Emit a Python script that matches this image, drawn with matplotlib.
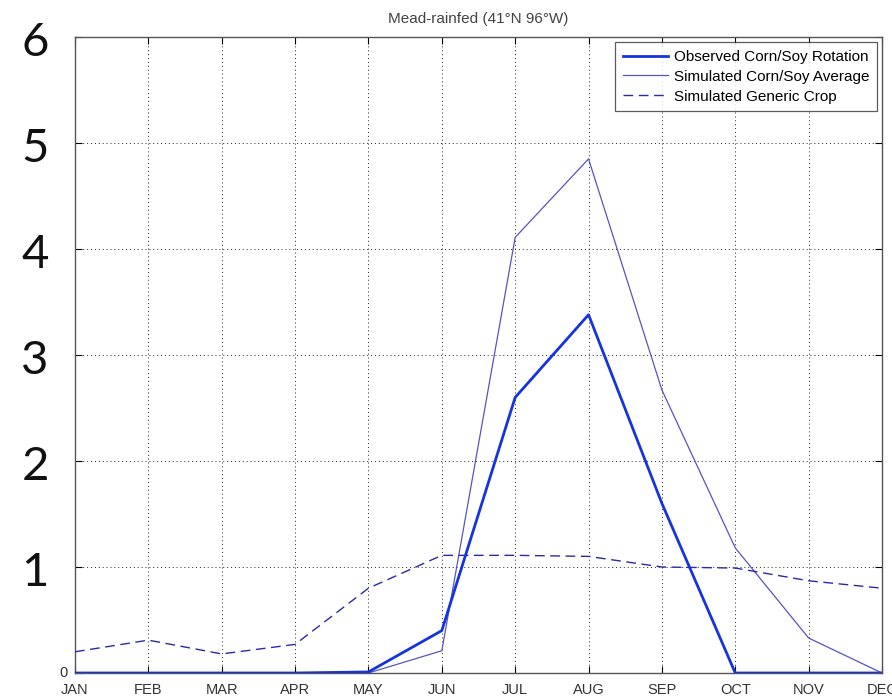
import numpy as np
import matplotlib
matplotlib.use("Agg")
import matplotlib.pyplot as plt
from matplotlib import transforms

months = ["JAN", "FEB", "MAR", "APR", "MAY", "JUN",
          "JUL", "AUG", "SEP", "OCT", "NOV", "DEC"]

# monthly values, Mead rainfed site
observed = [0, 0, 0, 0, 0.01, 0.40, 2.60, 3.38, 1.60, 0, 0, 0]
sim_avg = [0, 0, 0, 0, 0, 0.21, 4.11, 4.85, 2.67, 1.18, 0.33, 0]
sim_generic = [0.20, 0.31, 0.18, 0.27, 0.80, 1.11, 1.11, 1.10, 1.00, 0.99, 0.87, 0.80]

big_ticks = [1, 2, 3, 4, 5, 6]

plt.rcParams['font.family'] = ['Liberation Sans', 'DejaVu Sans']

fig = plt.figure(figsize=(8.92, 6.99), dpi=100)
ax = fig.add_axes([75/892, 26/699, 807/892, 636/699])

x = np.arange(1, len(months) + 1)
ax.plot(x, observed, color="#1434e0", lw=2.0, label="Observed Corn/Soy Rotation", zorder=4)
ax.plot(x, sim_avg, color="#5555c4", lw=0.9, label="Simulated Corn/Soy Average", zorder=3)
ax.plot(x, sim_generic, color="#2a2aa8", lw=1.0, ls=(0, (7, 4)),
        label="Simulated Generic Crop", zorder=3)

ax.set_xlim(1, 12)
ax.set_ylim(0, 6)
ax.set_xticks(x)
ax.set_xticklabels(months, fontsize=10.5, color="#333333")
ax.set_yticks(range(0, 7))
ax.set_yticklabels([])
ax.tick_params(direction="in", length=5, top=True, right=True, pad=3, width=0.8)
ax.tick_params(axis="x", pad=7)
ax.grid(True, color="#222222", ls=(0, (1, 3)), lw=0.7)
for s in ax.spines.values():
    s.set_color("#555555")
    s.set_linewidth(1.0)

ax.set_title("Mead-rainfed (41°N 96°W)", fontsize=11, color="#444444", pad=10)

# small zero label at the axis origin
ax.text(-0.009, 0.0, "0", transform=ax.transAxes, ha="right", va="center",
        fontsize=10.5, color="#333333")

leg = ax.legend(loc="upper right", fontsize=11, frameon=True, fancybox=False,
                edgecolor="#333333", handlelength=3.0, handletextpad=0.33,
                borderaxespad=0.35, labelspacing=0.38, borderpad=0.5)
leg.get_frame().set_linewidth(0.9)

# large y labels on the left margin
trans = transforms.blended_transform_factory(fig.transFigure, ax.transData)
for v in big_ticks:
    ax.text(35/892, v - 0.06, str(v), transform=trans, ha="center", va="center",
            fontsize=34, family=["Lato", "DejaVu Sans"], color="#111111", clip_on=False)

fig.savefig("out.png", dpi=100)
